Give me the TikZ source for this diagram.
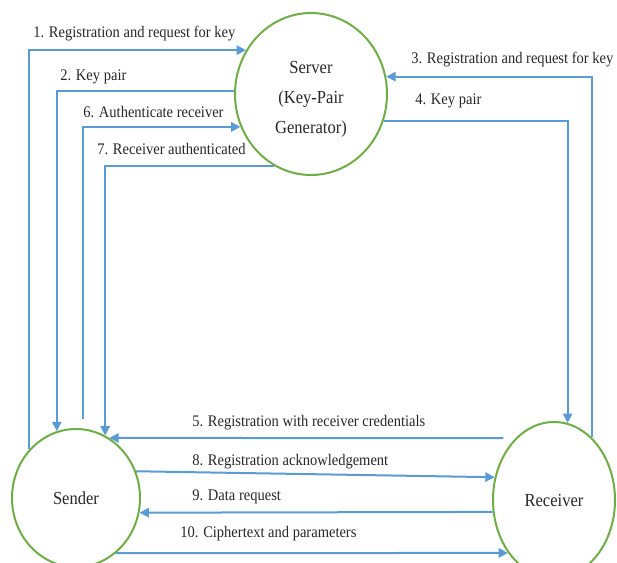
\documentclass[tikz,border=0pt]{standalone}
\usepackage{fontspec}
\setmainfont{Liberation Serif}[FakeStretch=0.9]
\usetikzlibrary{arrows.meta,shapes.geometric}
\definecolor{linkblue}{HTML}{5B9BD5}
\definecolor{nodegreen}{HTML}{70AD47}

\begin{document}
\begin{tikzpicture}[x=0.75pt,y=-0.75pt,
    party/.style ={ellipse, draw=nodegreen, line width=1.5pt, inner sep=0pt, align=center,
                   text=black!85, font=\fontsize{13.8}{22.5}\selectfont},
    message/.style ={draw=linkblue, line width=1.5pt, -{Triangle[length=7pt,width=7pt]}},
    caption/.style ={anchor=west, inner sep=0pt, text=black!85, font=\fontsize{12.1}{14}\selectfont}]
   \useasboundingbox (0,0) rectangle (617,563);

   \node[party, minimum width=114pt, minimum height=121.5pt] (K) at (311,94)  {\rule{0pt}{17pt}Server\\(Key-Pair\\Generator)};
   \node[party, minimum width=96pt, minimum height=103.5pt]  (S) at (76,498)  {Sender};
   \node[party, minimum width=91.5pt, minimum height=117pt]  (R) at (554,500) {Receiver};

   \draw[message] (S.134) |- (K.146);
   \draw[message] (K.178) -| (S.106);
   \draw[message,shorten <=7pt] (S.84) |- (K.205);
   \draw[message] (K.243) -| (S.65);
   \draw[message] (R.59) |- (K.13);
   \draw[message] (K.340) -| (R.80);
   \draw[message,shorten <=9pt] (R.122) -- (S.61);
   \draw[message] (S.24) -- (R.159);
   \draw[message] (R.191) -- (S.347);
   \draw[message] (S.306) -- (R.229);

   \node[caption] (l1)  at (33,34)   {1. Registration and request for key};
   \node[caption] (l2)  at (60,77)   {2. Key pair};
   \node[caption] (l3)  at (411,60)  {3. Registration and request for key};
   \node[caption] (l4)  at (415,101) {4. Key pair};
   \node[caption] (l5)  at (192,423) {5. Registration with receiver credentials};
   \node[caption] (l6)  at (83,112)  {6. Authenticate receiver};
   \node[caption] (l7)  at (97,149)  {7. Receiver authenticated};
   \node[caption] (l8)  at (192,462) {8. Registration acknowledgement};
   \node[caption] (l9)  at (192,497) {9. Data request};
   \node[caption] (l10) at (180,534) {10. Ciphertext and parameters};
 \end{tikzpicture}
\end{document}
